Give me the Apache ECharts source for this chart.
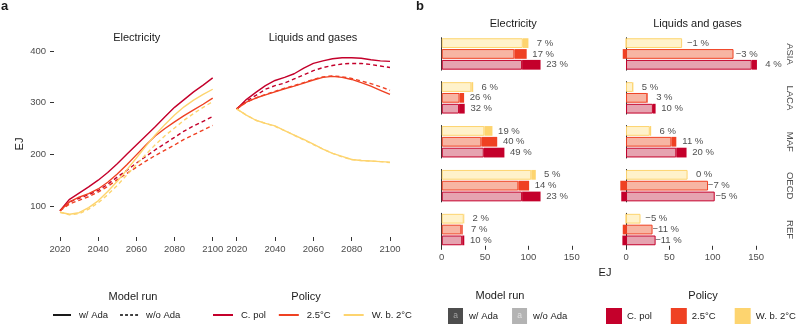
<!DOCTYPE html>
<html>
<head>
<meta charset="utf-8">
<script src="https://cdn.jsdelivr.net/npm/echarts@6/dist/echarts.min.js"></script>
<style>
  html, body { margin: 0; padding: 0; background: #fff; }
  #chart { width: 800px; height: 326px; }
</style>
</head>
<body>
<div id="chart"></div>
<script>
// ---- panel a: final energy demand (EJ), 5-year steps ----
const years = [2020, 2025, 2030, 2035, 2040, 2045, 2050, 2055, 2060, 2065, 2070, 2075, 2080, 2085, 2090, 2095, 2100];

const elecCpolAda   = [91, 113, 125, 137, 150, 165, 182, 200, 218, 236, 254, 273, 291, 306, 321, 334, 348];
const elecCpolNoAda = [91, 108, 115, 122, 130, 142, 156, 169, 183, 196, 209, 221, 233, 245, 255, 264, 273];
const elec25Ada     = [91, 108, 117, 124, 133, 146, 162, 180, 199, 218, 236, 250, 263, 275, 286, 297, 309];
const elec25NoAda   = [91, 104, 111, 118, 127, 138, 151, 163, 175, 187, 198, 208, 218, 229, 238, 247, 256];
const elecWb2Ada    = [88, 84, 87, 97, 110, 128, 148, 170, 193, 216, 238, 258, 276, 292, 305, 316, 326];
const elecWb2NoAda  = [88, 83, 85, 94, 106, 122, 140, 160, 180, 200, 219, 236, 251, 266, 279, 291, 302];

const liqCpolAda    = [288, 306, 320, 333, 343, 349, 356, 367, 376, 381, 385, 387, 387, 386, 383, 381, 380];
const liqCpolNoAda  = [288, 303, 314, 326, 333, 338, 346, 354, 362, 368, 372, 375, 376, 376, 374, 371, 368];
const liq25Ada      = [288, 301, 309, 315, 321, 327, 332, 338, 344, 349, 351, 349, 345, 339, 332, 324, 316];
const liq25NoAda    = [288, 301, 309, 316, 322, 328, 333, 339, 345, 350, 352, 350, 347, 342, 337, 331, 324];
const liqWb2Ada     = [288, 276, 266, 260, 255, 246, 237, 229, 220, 210, 202, 196, 190, 188, 187, 186, 185];
const liqWb2NoAda   = [288, 276, 266, 260, 254, 246, 237, 228, 219, 210, 202, 195, 190, 188, 187, 186, 184];

const yTicksA = [100, 200, 300, 400];

// ---- panel b: 2100 demand by region (EJ) ----
const regions = ['ASIA', 'LACA', 'MAF', 'OECD', 'REF'];
const barOrder = ['W. b. 2°C', '2.5°C', 'C. pol'];   // top to bottom inside a region

const elecAdaCpol   = [114, 26.5, 72.3, 114, 26];
const elecAda25     = [98, 25.8, 64, 100.8, 24.2];
const elecAdaWb2    = [100, 36.3, 58.5, 108.5, 26];
const elecNoAdaCpol = [92.7, 20, 48.5, 92.7, 23.6];
const elecNoAda25   = [83.8, 20.5, 45.7, 88.4, 22.6];
const elecNoAdaWb2  = [93.5, 34.2, 49.2, 103.3, 25.4];

const liqAdaCpol    = [151, 34.1, 69.8, 96.8, 29.9];
const liqAda25      = [120.2, 25.2, 58, 88, 26.8];
const liqAdaWb2     = [64, 8.5, 29, 71, 15.9];
const liqNoAdaCpol  = [145, 31, 58, 102.3, 34.1];
const liqNoAda25    = [124, 24.5, 52.3, 94.6, 30.6];
const liqNoAdaWb2   = [64.7, 8.1, 27.4, 71, 16.7];

const elecPctCpol = ['23 %', '32 %', '49 %', '23 %', '10 %'];
const elecPct25   = ['17 %', '26 %', '40 %', '14 %', '7 %'];
const elecPctWb2  = ['7 %', '6 %', '19 %', '5 %', '2 %'];
const liqPctCpol  = ['4 %', '10 %', '20 %', '\u22125 %', '\u221211 %'];
const liqPct25    = ['\u22123 %', '3 %', '11 %', '\u22127 %', '\u221211 %'];
const liqPctWb2   = ['\u22121 %', '5 %', '6 %', '0 %', '\u22125 %'];

const xTicksB = [0, 50, 100, 150];

// ---- styles ----
const fontFamily = "'Liberation Sans', Arial, sans-serif";
const colFull  = { 'C. pol': '#c4002b', '2.5°C': '#ef4123', 'W. b. 2°C': '#fdd46f' };
const colLight = { 'C. pol': '#e6a3b0', '2.5°C': '#f7b5a3', 'W. b. 2°C': '#fff2cb' };
const tickColor = '#333';
const labColor = '#4d4d4d';
const ZW = '\u200b'; // keeps panel b legend names apart from the line series

const chart = echarts.init(document.getElementById('chart'), null, { renderer: 'canvas' });

const grids = [], xAxes = [], yAxes = [], series = [];

// panel a grids
const gridA = [
  { left: 60, top: 40.7, width: 152.7, height: 196.3 },
  { left: 236.7, top: 40.7, width: 153.3, height: 196.3 }
];
gridA.forEach((g, i) => {
  grids.push(Object.assign({ outerBoundsMode: 'none', containLabel: false }, g));
  xAxes.push({
    type: 'value', gridIndex: i, min: 2020, max: 2100, interval: 20,
    axisLine: { show: false }, splitLine: { show: false },
    axisTick: { show: true, length: 4, lineStyle: { color: tickColor } },
    axisLabel: { color: labColor, fontSize: 9.5, fontFamily, margin: 7, hideOverlap: false,
                 formatter: v => String(v) }
  });
  yAxes.push({
    type: 'value', gridIndex: i, min: 40, max: 420, offset: 6,
    show: i === 0,
    axisLine: { show: false }, splitLine: { show: false },
    axisTick: { show: true, length: 4, lineStyle: { color: tickColor }, customValues: yTicksA },
    axisLabel: { color: labColor, fontSize: 9.5, fontFamily, margin: 8, customValues: yTicksA }
  });
});

const linesA = [
  [0, 'C. pol', elecCpolAda, elecCpolNoAda],
  [0, '2.5°C', elec25Ada, elec25NoAda],
  [0, 'W. b. 2°C', elecWb2Ada, elecWb2NoAda],
  [1, 'C. pol', liqCpolAda, liqCpolNoAda],
  [1, '2.5°C', liq25Ada, liq25NoAda],
  [1, 'W. b. 2°C', liqWb2Ada, liqWb2NoAda]
];
// dashed (w/o Ada) first, solid on top
linesA.forEach(([gi, pol, ada, noAda]) => {
  series.push({
    name: pol, type: 'line', xAxisIndex: gi, yAxisIndex: gi, symbol: 'none',
    data: years.map((y, k) => [y, noAda[k]]), color: colFull[pol],
    lineStyle: { width: 1.4, type: [4, 3], color: colFull[pol] }, z: 2
  });
});
linesA.forEach(([gi, pol, ada]) => {
  series.push({
    name: pol, type: 'line', xAxisIndex: gi, yAxisIndex: gi, symbol: 'none',
    data: years.map((y, k) => [y, ada[k]]), color: colFull[pol],
    lineStyle: { width: 1.4, color: colFull[pol] }, z: 3
  });
});

// panel b grids (rows = regions, cols = sectors)
const colLeftB = [424.4, 608.7];
const rowTopB = r => 37.7 + r * 43.9;
const rowH = 32.5;
const sectors = [
  { ada: { 'C. pol': elecAdaCpol, '2.5°C': elecAda25, 'W. b. 2°C': elecAdaWb2 },
    noAda: { 'C. pol': elecNoAdaCpol, '2.5°C': elecNoAda25, 'W. b. 2°C': elecNoAdaWb2 },
    pct: { 'C. pol': elecPctCpol, '2.5°C': elecPct25, 'W. b. 2°C': elecPctWb2 } },
  { ada: { 'C. pol': liqAdaCpol, '2.5°C': liqAda25, 'W. b. 2°C': liqAdaWb2 },
    noAda: { 'C. pol': liqNoAdaCpol, '2.5°C': liqNoAda25, 'W. b. 2°C': liqNoAdaWb2 },
    pct: { 'C. pol': liqPctCpol, '2.5°C': liqPct25, 'W. b. 2°C': liqPctWb2 } }
];

regions.forEach((reg, r) => {
  sectors.forEach((sec, c) => {
    const gi = grids.length;
    const last = r === regions.length - 1;
    grids.push({ outerBoundsMode: 'none', containLabel: false, left: colLeftB[c], top: rowTopB(r), width: 164.7, height: rowH });
    xAxes.push({
      type: 'value', gridIndex: gi, min: -20, max: 170,
      axisLine: { show: false }, splitLine: { show: false },
      axisTick: { show: last, length: 4, lineStyle: { color: tickColor }, customValues: xTicksB },
      axisLabel: { show: last, color: labColor, fontSize: 9.5, fontFamily, margin: 7, customValues: xTicksB }
    });
    yAxes.push({
      type: 'category', gridIndex: gi, inverse: true, data: barOrder,
      axisLine: { show: true, onZero: true, lineStyle: { color: tickColor, width: 1 } },
      axisTick: { show: false }, axisLabel: { show: false }, splitLine: { show: false }
    });
    series.push({
      type: 'bar', name: 'noAda', xAxisIndex: gi, yAxisIndex: gi, stack: 's' + gi,
      barCategoryGap: '10%', silent: true,
      data: barOrder.map(p => ({
        value: sec.noAda[p][r],
        itemStyle: { color: colLight[p], borderColor: colFull[p], borderWidth: 1 }
      }))
    });
    series.push({
      type: 'bar', name: 'diff', xAxisIndex: gi, yAxisIndex: gi, stack: 's' + gi,
      barCategoryGap: '10%', silent: true,
      data: barOrder.map(p => ({
        value: +(sec.ada[p][r] - sec.noAda[p][r]).toFixed(2),
        itemStyle: { color: colFull[p] }
      }))
    });
    series.push({
      type: 'scatter', name: 'pct', xAxisIndex: gi, yAxisIndex: gi, silent: true,
      symbolSize: 1, itemStyle: { color: 'rgba(0,0,0,0)' }, z: 5,
      label: { show: true, position: 'inside', offset: [16.5, 0], align: 'center',
               formatter: '{b}', color: '#1a1a1a', fontSize: 9.5, fontFamily },
      data: barOrder.map(p => ({ name: sec.pct[p][r], value: [sec.ada[p][r], p] }))
    });
  });
});

// empty series, only for legend entries
['w/ Ada', 'w/o Ada', 'w/ Ada' + ZW, 'w/o Ada' + ZW].concat(barOrder.map(p => p + ZW)).forEach(n => {
  series.push({ name: n, type: 'line', xAxisIndex: 0, yAxisIndex: 0, data: [], symbol: 'none' });
});

const solidIcon = 'path://M0,0H20V2H0Z';
const dashIcon = 'path://M0,0H4V2H0Z M7,0H11V2H7Z M14,0H18V2H14Z M21,0H25V2H21Z';
const legText = { fontSize: 9.5, color: '#1a1a1a', fontFamily };

const legends = [
  {
    left: 53, top: 310, width: 300, padding: 0, itemWidth: 18, itemHeight: 2, itemGap: 12, selectedMode: false,
    textStyle: Object.assign({ padding: [0, 0, 0, 3] }, legText),
    data: [
      { name: 'w/ Ada', icon: solidIcon, itemStyle: { color: '#000', borderWidth: 0 } },
      { name: 'w/o Ada', icon: dashIcon, itemStyle: { color: '#000', borderWidth: 0 } }
    ]
  },
  {
    left: 213, top: 310, width: 300, padding: 0, itemWidth: 20, itemHeight: 2, itemGap: 13, selectedMode: false,
    textStyle: Object.assign({ padding: [0, 0, 0, 3] }, legText),
    data: barOrder.slice().reverse().map(p => ({ name: p, icon: solidIcon, itemStyle: { color: colFull[p], borderWidth: 0 } }))
  },
  {
    left: 443, top: 308, width: 300, padding: 0, itemWidth: 0, itemHeight: 16, itemGap: 9, selectedMode: false,
    formatter: n => (n.indexOf('w/o') === 0 ? '{k2|a}' : '{k1|a}') + '{t|' + n.replace(ZW, '') + '}',
    textStyle: Object.assign({
      rich: {
        k1: { width: 15, height: 16, lineHeight: 16, align: 'center', backgroundColor: '#4d4d4d', color: '#a3a3a3', fontSize: 8.5, fontFamily },
        k2: { width: 15, height: 16, lineHeight: 16, align: 'center', backgroundColor: '#b3b3b3', color: '#e0e0e0', fontSize: 8.5, fontFamily },
        t: { padding: [0, 0, 0, 6], fontSize: 9.5, color: '#1a1a1a', fontFamily }
      }
    }, legText),
    data: [{ name: 'w/ Ada' + ZW, icon: 'none' }, { name: 'w/o Ada' + ZW, icon: 'none' }]
  },
  {
    left: 606, top: 308, width: 300, padding: 0, itemWidth: 16, itemHeight: 16, itemGap: 19, selectedMode: false,
    formatter: n => n.replace(ZW, ''),
    textStyle: legText,
    data: barOrder.slice().reverse().map(p => ({ name: p + ZW, icon: 'rect', itemStyle: { color: colFull[p], borderWidth: 0 } }))
  }
];

function txt(text, x, y, opts) {
  opts = opts || {};
  return {
    type: 'text', x, y, rotation: opts.rotation || 0, silent: true,
    style: {
      text, fill: opts.fill || '#1a1a1a',
      font: (opts.weight || 'normal') + ' ' + (opts.size || 11) + 'px ' + fontFamily,
      align: opts.align || 'center', textAlign: opts.align || 'center',
      verticalAlign: 'middle', textVerticalAlign: 'middle'
    }
  };
}

const graphics = [
  txt('a', 1, 6, { weight: 'bold', size: 13, align: 'left' }),
  txt('b', 416, 6, { weight: 'bold', size: 13, align: 'left' }),
  txt('Electricity', 136.7, 37.7),
  txt('Liquids and gases', 313, 37.7),
  txt('Electricity', 513.3, 24.3),
  txt('Liquids and gases', 697.5, 24.3),
  txt('EJ', 20, 144, { rotation: Math.PI / 2 }),
  txt('EJ', 605, 272.7),
  txt('Model run', 133, 296.5),
  txt('Policy', 306, 296.5),
  txt('Model run', 500, 296),
  txt('Policy', 703, 296)
];
regions.forEach((reg, r) => {
  graphics.push(txt(reg, 790, rowTopB(r) + rowH / 2, { size: 9.5, fill: labColor, rotation: -Math.PI / 2 }));
});

chart.setOption({
  animation: false,
  backgroundColor: '#fff',
  textStyle: { fontFamily },
  grid: grids,
  xAxis: xAxes,
  yAxis: yAxes,
  legend: legends,
  graphic: graphics,
  series: series
});
</script>
</body>
</html>
